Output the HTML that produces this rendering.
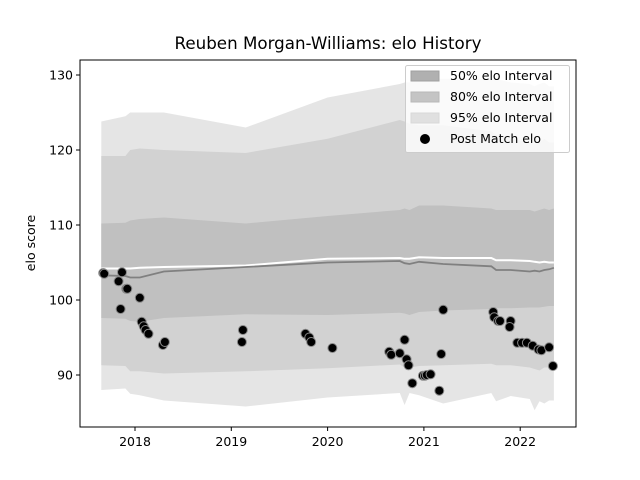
<!DOCTYPE html>
<html><head><meta charset="utf-8"><style>
body{margin:0;background:#fff}
svg{display:block;font-family:"DejaVu Sans","Liberation Sans",sans-serif}
</style></head><body>
<svg id="chart" width="640" height="480" viewBox="0 0 640 480">
<rect width="640" height="480" fill="#fff"/>
<text x="328" y="49" text-anchor="middle" font-size="16.7" fill="#000">Reuben Morgan-Williams: elo History</text>
<g id="plot"></g>
<rect x="80" y="60" width="496" height="367" fill="none" stroke="#000" stroke-width="1"/>
<g id="axes"></g>
<text transform="translate(35,243) rotate(-90)" text-anchor="middle" font-size="12.5">elo score</text>
<g>
<rect x="405.5" y="65.5" width="164" height="87" rx="2" fill="#fff" fill-opacity="0.8" stroke="#ccc"/>
<g><rect x="411" y="71" width="28" height="10" fill="#b0b0b0" stroke="#a0a0a0"/><text x="450" y="80" font-size="12.5">50% elo Interval</text></g>
<g><rect x="411" y="92" width="28" height="10" fill="#c4c4c4" stroke="#b8b8b8"/><text x="450" y="101" font-size="12.5">80% elo Interval</text></g>
<g><rect x="411" y="113" width="28" height="10" fill="#e0e0e0" stroke="#d8d8d8"/><text x="450" y="122" font-size="12.5">95% elo Interval</text></g>
<g><circle cx="425" cy="139" r="5" fill="#000"/><text x="450" y="143" font-size="12.5">Post Match elo</text></g>
</g>
</svg>
<script>
const bandTimes=[2017.65,2017.9,2017.95,2018.05,2018.3,2019.15,2020.0,2020.75,2020.8,2020.85,2020.95,2021.2,2021.7,2021.75,2021.9,2022.1,2022.15,2022.2,2022.25,2022.3,2022.35];
const meanLine=[103.3,103.2,103.0,103.0,103.8,104.4,105.0,105.2,104.9,104.8,105.1,104.8,104.5,104.0,104.0,103.8,103.9,103.8,104.0,104.1,104.3];
const whiteLine=[104.2,104.2,104.2,104.3,104.4,104.6,105.5,105.6,105.5,105.5,105.7,105.6,105.6,105.3,105.3,105.2,105.1,105.0,105.1,105.0,105.0];
const upper50=[110.2,110.3,110.6,110.8,111.0,110.2,111.2,112.0,112.2,112.0,112.6,112.6,112.2,112.0,112.0,112.0,111.8,112.0,112.2,112.0,112.2];
const lower50=[97.6,97.5,97.2,97.1,97.6,98.1,98.0,98.3,98.2,98.0,98.4,98.6,98.8,98.9,98.9,99.0,99.0,99.0,99.1,99.2,99.2];
const upper80=[119.2,119.2,120.0,120.2,120.0,119.6,121.5,124.0,123.8,123.5,123.3,123.3,122.5,122.0,121.5,121.0,120.8,121.0,121.5,121.0,121.0];
const lower80=[91.3,91.2,90.5,90.5,90.2,90.5,90.9,91.4,91.0,91.0,91.2,91.3,91.5,91.3,91.3,91.0,90.8,90.6,91.0,91.0,91.0];
const upper95=[123.8,124.5,125.0,125.0,125.0,123.0,127.0,128.8,129.0,129.0,129.5,129.5,129.5,129.5,129.0,128.8,128.5,128.8,129.0,128.5,128.5];
const lower95=[88.0,88.2,87.5,87.3,86.6,85.8,87.0,87.6,86.0,87.6,87.3,86.2,87.6,86.5,87.2,86.8,85.3,86.5,86.2,86.6,86.6];
const matchTimes=[2017.67,2017.68,2017.865,2017.83,2017.85,2017.91,2017.92,2018.05,2018.07,2018.09,2018.11,2018.14,2018.29,2018.31,2019.12,2019.11,2019.77,2019.81,2019.83,2020.05,2020.64,2020.66,2020.75,2020.8,2020.82,2020.84,2020.88,2020.99,2021.01,2021.03,2021.07,2021.16,2021.18,2021.2,2021.72,2021.73,2021.77,2021.79,2021.9,2021.89,2021.97,2022.02,2022.07,2022.13,2022.19,2022.22,2022.3,2022.34];
const matchElo=[103.6,103.5,103.7,102.5,98.8,101.5,101.5,100.3,97.1,96.5,96.0,95.5,94.0,94.4,96.0,94.4,95.5,95.0,94.4,93.6,93.1,92.7,92.9,94.7,92.1,91.3,88.9,89.9,89.9,90.0,90.1,87.9,92.8,98.7,98.4,97.7,97.2,97.2,97.2,96.4,94.3,94.3,94.3,93.9,93.4,93.3,93.7,91.2];
const xTicks=[2018,2019,2020,2021,2022];
const yTicks=[90,100,110,120,130];

const X=t=>135+(t-2018)*96.3;
const Y=v=>375-(v-90)*7.5;
const NS='http://www.w3.org/2000/svg';
const plot=document.getElementById('plot');
function mk(tag,attrs,parent){const e=document.createElementNS(NS,tag);for(const k in attrs)e.setAttribute(k,attrs[k]);parent.appendChild(e);return e;}
function band(up,lo,fill){
  let d='M';
  bandTimes.forEach((t,i)=>{d+=X(t).toFixed(1)+','+Y(up[i]).toFixed(1)+' L';});
  for(let i=bandTimes.length-1;i>=0;i--){d+=X(bandTimes[i]).toFixed(1)+','+Y(lo[i]).toFixed(1)+(i?' L':' Z');}
  return mk('path',{d:d,fill:fill},plot);
}
const b95=band(upper95,lower95,'#e5e5e5');


const b80=band(upper80,lower80,'#d2d2d2');


const b50=band(upper50,lower50,'#c0c0c0');


function line(vals,stroke,w){
  const pts=bandTimes.map((t,i)=>X(t).toFixed(1)+','+Y(vals[i]).toFixed(1)).join(' ');
  return mk('polyline',{points:pts,fill:'none',stroke:stroke,'stroke-width':w},plot);
}
const wl=line(whiteLine,'#fff',2);


const ml=line(meanLine,'#808080',1.8);


matchTimes.forEach((t,i)=>{
  const c=mk('circle',{cx:X(t).toFixed(1),cy:Y(matchElo[i]).toFixed(1),r:4.5,fill:'#000',stroke:'#888','stroke-width':1},plot);
  
  
});
const axes=document.getElementById('axes');
xTicks.forEach(t=>{
  mk('line',{x1:X(t),x2:X(t),y1:427,y2:431,stroke:'#000'},axes);
  const tx=mk('text',{x:X(t),y:446,'text-anchor':'middle','font-size':12.5},axes);
  tx.textContent=t;
  
  
});
yTicks.forEach(v=>{
  mk('line',{x1:76,x2:80,y1:Y(v),y2:Y(v),stroke:'#000'},axes);
  const tx=mk('text',{x:73,y:Y(v)+4.5,'text-anchor':'end','font-size':12.5},axes);
  tx.textContent=v;
  
  
});
</script>
</body></html>
